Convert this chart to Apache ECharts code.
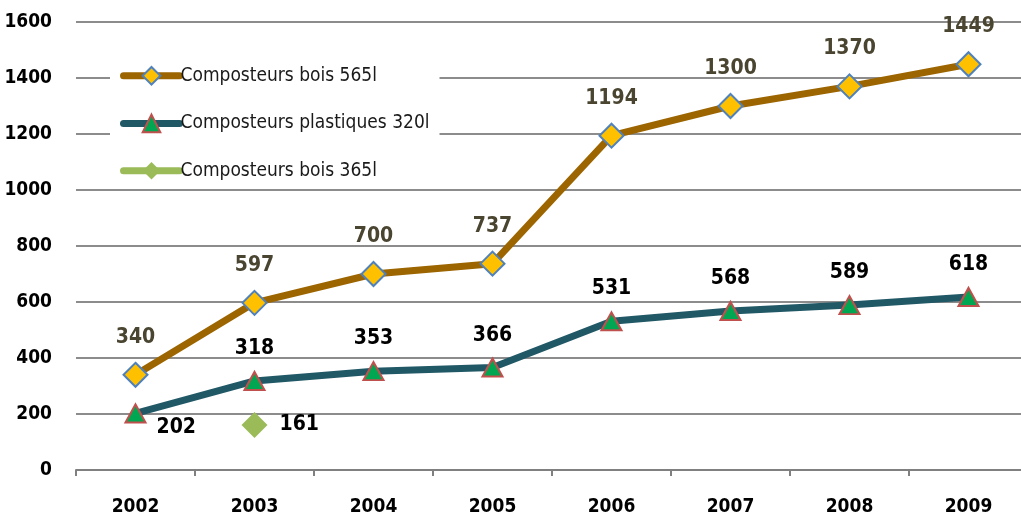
<!DOCTYPE html>
<html>
<head>
<meta charset="utf-8">
<script src="https://cdn.jsdelivr.net/npm/echarts@6/dist/echarts.min.js"></script>
<style>
  html, body { margin: 0; padding: 0; background: #fff; }
  #main { width: 1021px; height: 517px; }
</style>
</head>
<body>
<div id="main"></div>
<script>
// data
const years = ["2002", "2003", "2004", "2005", "2006", "2007", "2008", "2009"];
const bois565 = [340, 597, 700, 737, 1194, 1300, 1370, 1449];
const plastiques320 = [202, 318, 353, 366, 531, 568, 589, 618];
const bois365 = [null, 161, null, null, null, null, null, null];
const yTicks = [0, 200, 400, 600, 800, 1000, 1200, 1400, 1600];

const FONT = "'Liberation Sans Narrow', 'DejaVu Sans Condensed', sans-serif";

var myChart = echarts.init(document.getElementById("main"));

myChart.setOption({
  animation: false,
  textStyle: { fontFamily: FONT },
  grid: { left: 76, top: 22, width: 952, height: 448, outerBoundsMode: "none", containLabel: false },
  legend: {
    orient: "vertical",
    left: 110,
    top: 58,
    padding: [8, 10, 6, 10],
    backgroundColor: "#ffffff",
    itemWidth: 56,
    itemHeight: 22,
    itemGap: 28,
    lineStyle: { width: 7, cap: "round" },
    textStyle: { fontFamily: FONT, fontSize: 19, color: "#1a1a1a", padding: [0, 0, 0, -4] },
    data: ["Composteurs bois 565l", "Composteurs plastiques 320l", "Composteurs bois 365l"],
  },
  xAxis: {
    type: "category",
    data: years,
    boundaryGap: true,
    axisLine: { lineStyle: { color: "#808080", width: 2 } },
    axisTick: { show: true, length: 6, lineStyle: { color: "#808080", width: 2 } },
    axisLabel: { fontFamily: FONT, fontSize: 19, fontWeight: "bold", color: "#000", margin: 28 },
  },
  yAxis: {
    type: "value",
    min: yTicks[0],
    max: yTicks[yTicks.length - 1],
    interval: 200,
    axisLine: { show: false },
    axisTick: { show: false },
    axisLabel: {
      fontFamily: FONT,
      fontSize: 19,
      fontWeight: "bold",
      color: "#000",
      margin: 24,
      formatter: (v) => String(v),
    },
    splitLine: { lineStyle: { color: "#8c8c8c", width: 2 } },
  },
  series: [
    {
      name: "Composteurs bois 565l",
      type: "line",
      data: bois565,
      z: 3,
      symbol: "diamond",
      symbolSize: [24, 24],
      lineStyle: { color: "#9c6500", width: 7 },
      itemStyle: { color: "#ffc000", borderColor: "#4f81bd", borderWidth: 2 },
      label: {
        show: true,
        position: "top",
        distance: 14,
        fontFamily: FONT,
        fontSize: 21,
        fontWeight: "bold",
        color: "#4a4530",
      },
    },
    {
      name: "Composteurs plastiques 320l",
      type: "line",
      data: plastiques320.map((v, i) =>
        i === 0
          ? { value: v, label: { position: "right", distance: 10, offset: [0, 14] } }
          : v
      ),
      z: 2,
      symbol: "triangle",
      symbolSize: [20, 18],
      lineStyle: { color: "#215866", width: 7 },
      itemStyle: { color: "#00a651", borderColor: "#c0504d", borderWidth: 2 },
      label: {
        show: true,
        position: "top",
        distance: 12,
        fontFamily: FONT,
        fontSize: 21,
        fontWeight: "bold",
        color: "#000",
      },
    },
    {
      name: "Composteurs bois 365l",
      type: "line",
      data: bois365,
      z: 4,
      symbol: "diamond",
      symbolSize: [26, 26],
      lineStyle: { color: "#9bbb59", width: 5 },
      itemStyle: { color: "#9bbb59" },
      label: {
        show: true,
        position: "right",
        distance: 12,
        fontFamily: FONT,
        fontSize: 21,
        fontWeight: "bold",
        color: "#000",
      },
    },
  ],
});
</script>
</body>
</html>
